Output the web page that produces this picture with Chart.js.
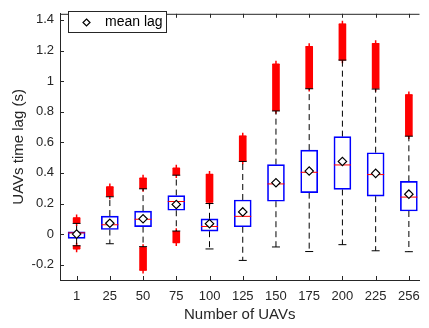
<!DOCTYPE html>
<html>
<head>
<meta charset="utf-8">
<script src="https://cdn.jsdelivr.net/npm/chart.js@4.4.0/dist/chart.umd.min.js"></script>
<style>
  html, body { margin: 0; padding: 0; background: #fff; }
  #wrap { width: 429px; height: 328px; position: relative; }
</style>
</head>
<body>
<div id="wrap"><canvas id="lagChart"></canvas></div>
<script>
const categories = ['1', '25', '50', '75', '100', '125', '150', '175', '200', '225', '256'];
const q1        = [-0.028, 0.030, 0.049, 0.156, 0.019, 0.048, 0.215, 0.271, 0.292, 0.248, 0.151];
const q3        = [ 0.015, 0.118, 0.150, 0.252, 0.100, 0.223, 0.454, 0.549, 0.637, 0.532, 0.345];
const medians   = [ 0.008, 0.061, 0.097, 0.213, 0.050, 0.116, 0.328, 0.404, 0.452, 0.389, 0.242];
const means     = [ 0.000, 0.071, 0.100, 0.194, 0.068, 0.145, 0.336, 0.412, 0.475, 0.397, 0.261];
const whiskLo   = [-0.076, -0.063, -0.082, 0.020, -0.097, -0.172, -0.084, -0.114, -0.069, -0.109, -0.115];
const whiskHi   = [ 0.070, 0.244, 0.296, 0.385, 0.200, 0.475, 0.805, 0.950, 1.137, 0.948, 0.640];
// outlier spans (dense red '+' runs)
const outHiMin  = [ 0.076, 0.250, 0.300, 0.390, 0.210, 0.480, 0.810, 0.955, 1.140, 0.955, 0.645];
const outHiMax  = [ 0.105, 0.308, 0.365, 0.430, 0.390, 0.640, 1.110, 1.225, 1.372, 1.245, 0.910];
const outLoMin  = [-0.095, null, -0.235, -0.055, null, null, null, null, null, null, null];
const outLoMax  = [-0.080, null, -0.090,  0.015, null, null, null, null, null, null, null];
const yTicks    = [-0.2, 0, 0.2, 0.4, 0.6, 0.8, 1, 1.2, 1.4];

const FONT = '"Liberation Sans", Arial, Helvetica, sans-serif';
const INK = '#262626';
const xs = categories.map((_, i) => i + 1);

const pts = arr => xs.map((x, i) => ({ x, y: arr[i] }));
const spans = (lo, hi) => xs.map((x, i) => ({ x, y: lo[i] == null ? null : [lo[i], hi[i]] }));

const whiskerData = [];
xs.forEach((x, i) => {
  whiskerData.push({ x, y: q3[i] }, { x, y: whiskHi[i] }, { x, y: null });
  whiskerData.push({ x, y: q1[i] }, { x, y: whiskLo[i] }, { x, y: null });
});
const outEnds = [];
xs.forEach((x, i) => {
  outEnds.push({ x, y: outHiMin[i] }, { x, y: outHiMax[i] });
  if (outLoMin[i] != null) outEnds.push({ x, y: outLoMin[i] }, { x, y: outLoMax[i] });
});

const frame = {
  id: 'frame',
  afterDraw(chart) {
    const { ctx, chartArea: a, scales } = chart;
    ctx.save();
    ctx.strokeStyle = INK;
    ctx.lineWidth = 1;
    ctx.beginPath();
    ctx.moveTo(a.left, a.top + 0.5); ctx.lineTo(a.right, a.top + 0.5);
    yTicks.forEach(v => {
      const y = Math.round(scales.y.getPixelForValue(v)) + 0.5;
      ctx.moveTo(a.left, y); ctx.lineTo(a.left + 4, y);
    });
    xs.forEach(v => {
      const x = Math.round(scales.x.getPixelForValue(v)) + 0.5;
      ctx.moveTo(x, a.bottom); ctx.lineTo(x, a.bottom - 4);
      ctx.moveTo(x, a.top); ctx.lineTo(x, a.top + 4);
    });
    ctx.stroke();
    // legend box
    ctx.fillStyle = '#fff';
    ctx.fillRect(68.5, 11.5, 98, 21);
    ctx.strokeRect(68.5, 11.5, 98, 21);
    ctx.beginPath();
    ctx.moveTo(86.5, 19); ctx.lineTo(90, 22.5); ctx.lineTo(86.5, 26); ctx.lineTo(83, 22.5); ctx.closePath();
    ctx.strokeStyle = '#000'; ctx.lineWidth = 1.2; ctx.stroke();
    ctx.fillStyle = '#000';
    ctx.font = '14px ' + FONT;
    ctx.textBaseline = 'middle';
    ctx.fillText('mean lag', 105, 22.5);
    ctx.restore();
  }
};

new Chart(document.getElementById('lagChart'), {
  type: 'bar',
  data: {
    datasets: [
      { type: 'line', label: 'mean lag', data: pts(means), showLine: false,
        pointStyle: 'rectRot', pointRadius: 4.2, pointBackgroundColor: '#fff',
        pointBorderColor: '#000', pointBorderWidth: 1.2 },
      { type: 'line', label: 'median', data: pts(medians), showLine: false,
        pointStyle: 'line', pointRadius: 8.5, pointBorderColor: '#ff0000', pointBorderWidth: 1 },
      { type: 'line', label: 'caps', data: pts(whiskLo).concat(pts(whiskHi)), showLine: false,
        pointStyle: 'line', pointRadius: 4, pointBorderColor: '#000', pointBorderWidth: 1 },
      { type: 'bar', label: 'box', data: spans(q1, q3), grouped: false, barThickness: 17,
        backgroundColor: 'rgba(255,255,255,0)', borderColor: '#0000ff', borderWidth: 1, borderSkipped: false },
      { type: 'line', label: 'whisker', data: whiskerData, spanGaps: false, pointRadius: 0,
        borderColor: '#000', borderWidth: 1, borderDash: [6, 4] },
      { type: 'line', label: 'outlier ends', data: outEnds, showLine: false,
        pointStyle: 'cross', pointRadius: 3.5, pointBorderColor: '#ff0000', pointBorderWidth: 1.5 },
      { type: 'bar', label: 'outliers hi', data: spans(outHiMin, outHiMax), grouped: false, barThickness: 7,
        backgroundColor: '#ff0000', borderWidth: 0 },
      { type: 'bar', label: 'outliers lo', data: spans(outLoMin, outLoMax), grouped: false, barThickness: 7,
        backgroundColor: '#ff0000', borderWidth: 0 }
    ]
  },
  options: {
    responsive: true,
    maintainAspectRatio: false,
    animation: false,
    layout: { padding: { top: 4, right: 0, bottom: 0, left: 0 } },
    plugins: { legend: { display: false }, tooltip: { enabled: false } },
    scales: {
      x: {
        type: 'linear', min: 0.5, max: 11.32, offset: false,
        afterFit: s => { s.height = 48; },
        afterBuildTicks: s => { s.ticks = xs.map(v => ({ value: v })); },
        grid: { drawOnChartArea: false, drawTicks: false },
        border: { display: true, color: INK, width: 1 },
        ticks: { autoSkip: false, maxRotation: 0, padding: 9, color: INK,
          font: { family: FONT, size: 13 }, callback: v => categories[v - 1] },
        title: { display: true, text: 'Number of UAVs', color: INK,
          font: { family: FONT, size: 15 }, padding: { top: 3 } }
      },
      y: {
        type: 'linear', min: -0.3, max: 1.44,
        afterFit: s => { s.width = 60; },
        afterBuildTicks: s => { s.ticks = yTicks.map(v => ({ value: v })); },
        grid: { drawOnChartArea: false, drawTicks: false },
        border: { display: true, color: INK, width: 1 },
        ticks: { padding: 6, color: INK, font: { family: FONT, size: 13 },
          callback: v => String(Math.round(v * 10) / 10) },
        title: { display: true, text: 'UAVs time lag (s)', color: INK,
          font: { family: FONT, size: 15 }, padding: { top: 10, bottom: 0 } }
      }
    }
  },
  plugins: [frame]
});
</script>
</body>
</html>
